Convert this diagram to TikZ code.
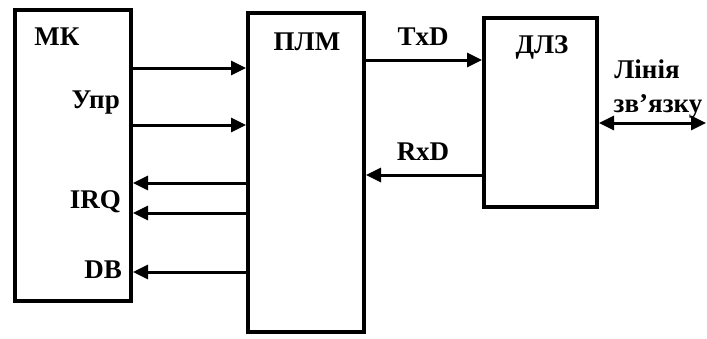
\documentclass[tikz,border=0pt]{standalone}
\usepackage{fontspec}
\setmainfont{Liberation Serif}
\usetikzlibrary{arrows.meta,positioning}

\begin{document}
\begin{tikzpicture}[x=1pt,y=-1pt,
    block/.style={draw,line width=4pt,inner sep=0pt,
      minimum width=#1},
    block/.default=116pt,
    arrow/.style={-{Triangle[length=15pt,width=14pt]},line width=3pt},
    lbl/.style={font=\fontsize{27}{29}\selectfont\bfseries,inner sep=0pt}
  ]
  \useasboundingbox (0,0) rectangle (707,338);

  % blocks
  \node[block,minimum height=291pt] (mk) at (73,155.5) {};
  \node[block,minimum height=319pt] (plm) at (306,172.5) {};
  \node[block=113pt,minimum height=189pt] (dlz) at (540.5,112.5) {};

  % levels of the lines
  \coordinate (u1) at (0,68);
  \coordinate (u2) at (0,125);
  \coordinate (q1) at (0,183);
  \coordinate (q2) at (0,213);
  \coordinate (db) at (0,272);
  \coordinate (tx) at (0,60);
  \coordinate (rx) at (0,175);
  \coordinate (ln) at (706,123);

  % MK <-> PLM
  \foreach \y in {u1,u2} {
    \draw[arrow] (mk.east |- \y) -- (plm.west |- \y); }
  \foreach \y in {q1,q2,db} {
    \draw[arrow] (plm.west |- \y) -- (mk.east |- \y); }

  % PLM <-> DLZ
  \draw[arrow] (plm.east |- tx) -- (dlz.west |- tx);
  \draw[arrow] (dlz.west |- rx) -- (plm.east |- rx);
  \draw[arrow,{Triangle[length=15pt,width=14pt]}-{Triangle[length=15pt,width=14pt]}]
    (dlz.east |- ln) -- (ln);

  % labels
  \node[lbl,anchor=base] (tmk) at (57,45) {МК};
  \node[lbl,anchor=base east] (tupr) at (120,108) {Упр};
  \node[lbl,anchor=base east] (tirq) at (121,208) {IRQ};
  \node[lbl,anchor=base east] (tdb) at (122,278) {DB};
  \node[lbl,anchor=base] (tplm) at (307,50) {ПЛМ};
  \node[lbl,anchor=base] (ttx) at (423,45) {TxD};
  \node[lbl,anchor=base] (trx) at (423,160) {RxD};
  \node[lbl,anchor=base] (tdlz) at (542,53) {ДЛЗ};
  \node[lbl,anchor=base] (tlin) at (647,78) {Лінія};
  \node[lbl,anchor=base] (tzv) at (658,112) {зв’язку};
\end{tikzpicture}
\end{document}
